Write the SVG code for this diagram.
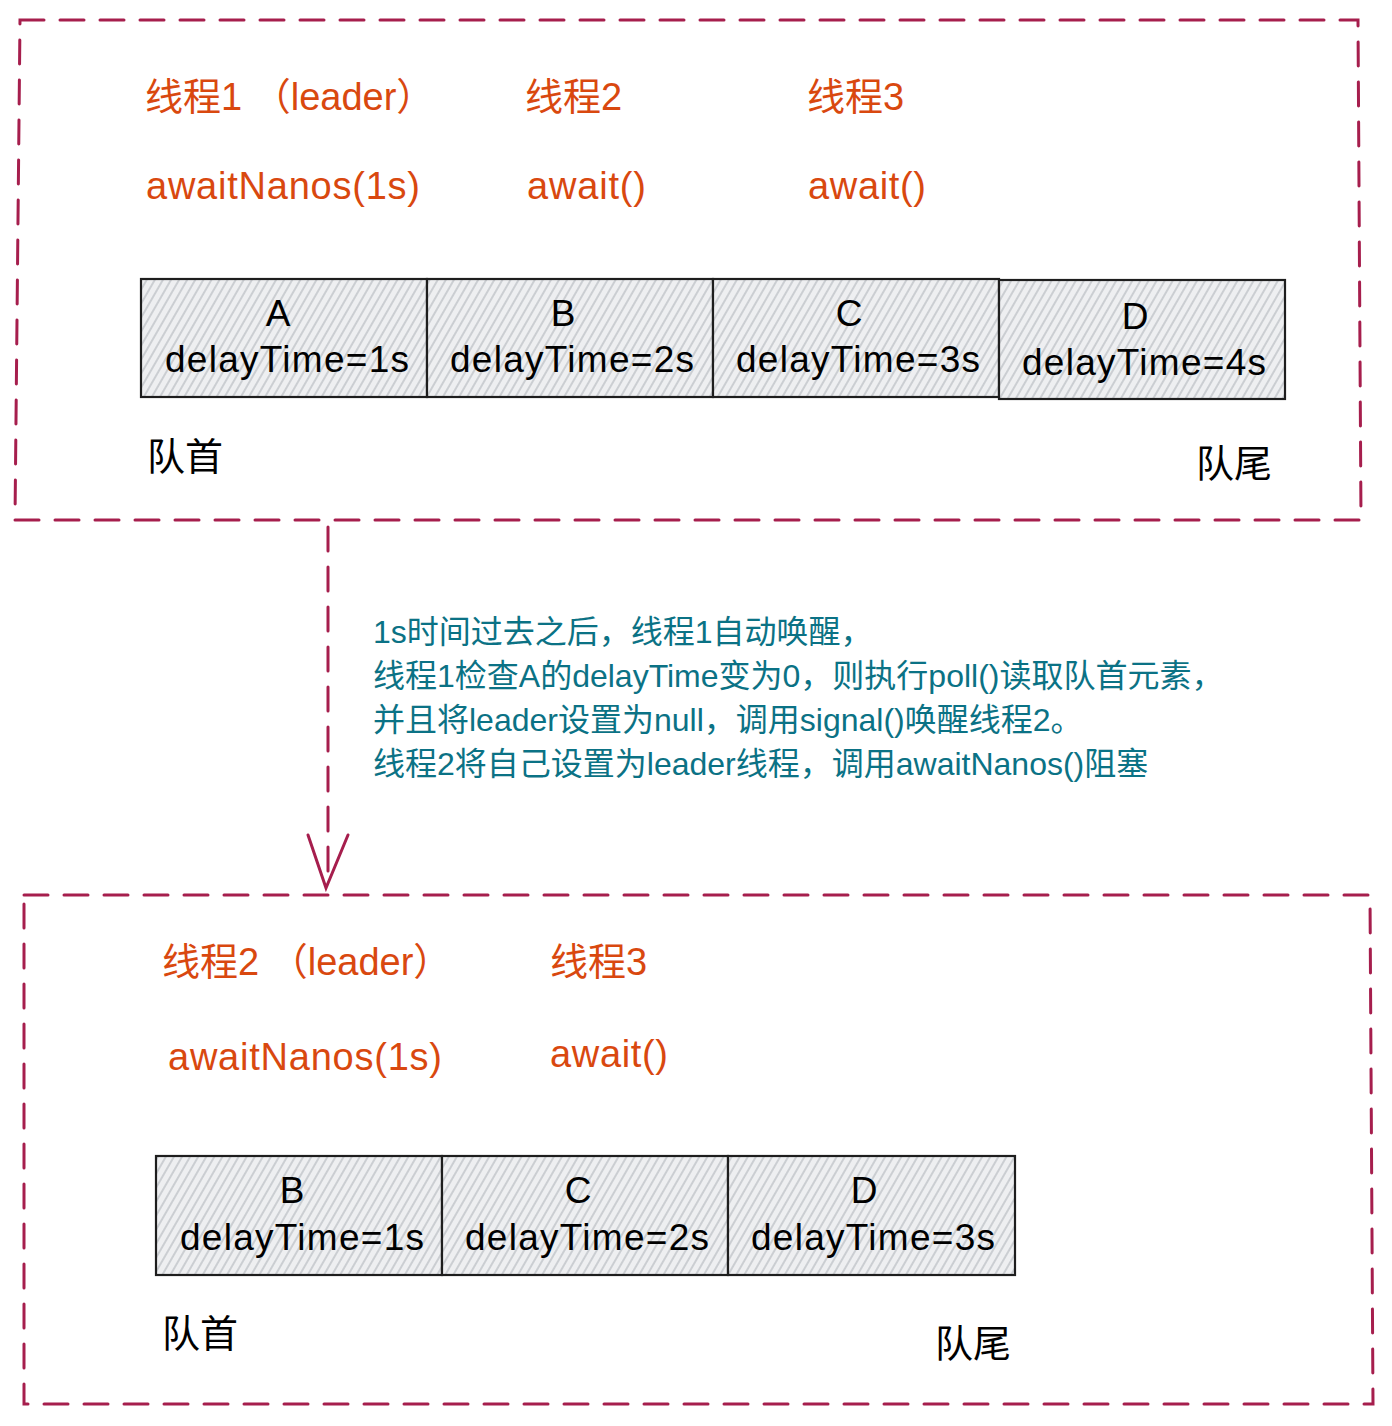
<svg xmlns="http://www.w3.org/2000/svg" width="1392" height="1426" viewBox="0 0 1392 1426">
<defs>
<pattern id="hatch" patternUnits="userSpaceOnUse" width="7" height="7" patternTransform="rotate(30)">
<rect width="7" height="7" fill="#eeeff1"/>
<line x1="1" y1="0" x2="1" y2="7" stroke="#b9bdc2" stroke-width="1.3"/>
</pattern>
<style>
.frame{fill:none;stroke:#a61e4d;stroke-width:3;stroke-dasharray:24 16;stroke-linecap:round}
.cell{fill:url(#hatch);stroke:#1e1e1e;stroke-width:2.2}
.or{font-family:"Liberation Sans","Noto Sans CJK SC",sans-serif;font-size:38px;fill:#d9480f}
.bk{font-family:"Liberation Sans","Noto Sans CJK SC",sans-serif;font-size:38px;fill:#000}
.ct{font-family:"Liberation Sans","Noto Sans CJK SC",sans-serif;font-size:37px;fill:#000;text-anchor:middle}
.tl{font-family:"Liberation Sans","Noto Sans CJK SC",sans-serif;font-size:32px;fill:#0b7285}
.conn{fill:none;stroke:#a61e4d;stroke-width:3;stroke-linecap:round}
</style>
</defs>
<rect width="1392" height="1426" fill="#fff"/>

<g id="frame-top">
<path class="frame" d="M20 20 L1358 20 L1361 520 L15 520 Z"/>
<text class="or" x="145" y="110" xml:space="preserve">线程1 （leader）</text>
<text class="or" x="525" y="110">线程2</text>
<text class="or" x="807" y="110">线程3</text>
<text class="or" x="146" y="199" textLength="274">awaitNanos(1s)</text>
<text class="or" x="527" y="199" textLength="119">await()</text>
<text class="or" x="808" y="199" textLength="118">await()</text>
<text class="bk" x="147" y="470">队首</text>
<text class="bk" x="1196" y="477">队尾</text>
</g>

<g id="cell-A">
<rect class="cell" x="141" y="279" width="286" height="118"/>
<text class="ct" x="278" y="326">A</text>
<text class="ct" x="287" y="372" textLength="244">delayTime=1s</text>
</g>
<g id="cell-B">
<rect class="cell" x="427" y="279" width="286" height="118"/>
<text class="ct" x="563" y="326">B</text>
<text class="ct" x="572" y="372" textLength="244">delayTime=2s</text>
</g>
<g id="cell-C">
<rect class="cell" x="713" y="279" width="286" height="118"/>
<text class="ct" x="849" y="326">C</text>
<text class="ct" x="858" y="372" textLength="244">delayTime=3s</text>
</g>
<g id="cell-D">
<rect class="cell" x="999" y="280" width="286" height="119"/>
<text class="ct" x="1135" y="329">D</text>
<text class="ct" x="1144" y="375" textLength="244">delayTime=4s</text>
</g>

<g id="connectors">
<path class="conn" d="M328 527 L328 886" stroke-dasharray="24 16"/>
<path class="conn" d="M308 835 L326 888 L348 835"/>
</g>

<g id="note">
<text class="tl" x="373" y="643">1s时间过去之后，线程1自动唤醒，</text>
<text class="tl" x="373" y="687">线程1检查A的delayTime变为0，则执行poll()读取队首元素，</text>
<text class="tl" x="373" y="731">并且将leader设置为null，调用signal()唤醒线程2。</text>
<text class="tl" x="373" y="775">线程2将自己设置为leader线程，调用awaitNanos()阻塞</text>
</g>

<g id="frame-bottom">
<path class="frame" d="M24 895 L1370 895 L1373 1404 L24 1404 Z"/>
<text class="or" x="162" y="975" xml:space="preserve">线程2 （leader）</text>
<text class="or" x="550" y="975">线程3</text>
<text class="or" x="168" y="1070" textLength="274">awaitNanos(1s)</text>
<text class="or" x="550" y="1067" textLength="118">await()</text>
<text class="bk" x="162" y="1347">队首</text>
<text class="bk" x="935" y="1357">队尾</text>
</g>

<g id="cell-B2">
<rect class="cell" x="156" y="1156" width="286" height="119"/>
<text class="ct" x="292" y="1203">B</text>
<text class="ct" x="302" y="1250" textLength="244">delayTime=1s</text>
</g>
<g id="cell-C2">
<rect class="cell" x="442" y="1156" width="286" height="119"/>
<text class="ct" x="578" y="1203">C</text>
<text class="ct" x="587" y="1250" textLength="244">delayTime=2s</text>
</g>
<g id="cell-D2">
<rect class="cell" x="728" y="1156" width="287" height="119"/>
<text class="ct" x="864" y="1203">D</text>
<text class="ct" x="873" y="1250" textLength="244">delayTime=3s</text>
</g>
</svg>
